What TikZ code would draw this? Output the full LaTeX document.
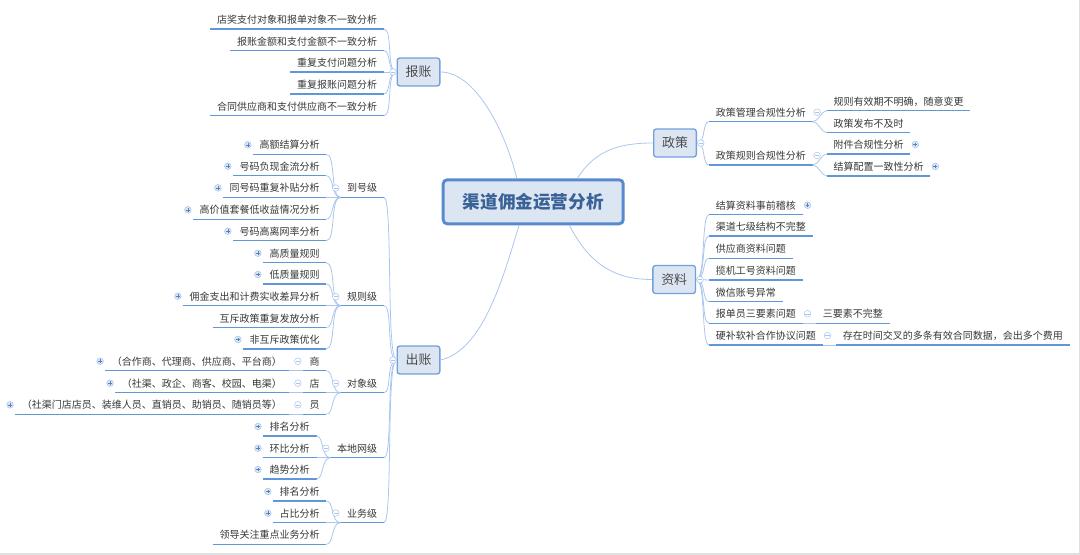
\documentclass[tikz,border=0pt]{standalone}
\usepackage{fontspec}
\setmainfont{Noto Sans CJK SC}
\usetikzlibrary{shapes, arrows, positioning, calc}
\definecolor{linedark}{RGB}{98,150,218}
\definecolor{linelight}{RGB}{170,198,238}
\definecolor{boxfill}{RGB}{220,230,243}
\definecolor{boxline}{RGB}{115,160,220}
\definecolor{rootline}{RGB}{88,138,205}
\definecolor{roottext}{RGB}{58,98,150}
\definecolor{textdark}{RGB}{55,55,55}
\tikzset{
	leaf/.style={inner xsep=4.875pt,inner ysep=0pt,minimum height=13.6pt,font=\fontsize{7.5pt}{9pt}\selectfont,text=textdark,
		append after command={(\tikzlastnode.south west) edge [line width=1pt,linedark] (\tikzlastnode.south east)}},
	leafw/.style={leaf,anchor=south west},
	leafe/.style={leaf,anchor=south east},
	mainbox/.style={draw=boxline,line width=1pt,fill=boxfill,rounded corners=2pt,minimum width=32pt,minimum height=21pt,inner sep=0pt,font=\fontsize{9.7pt}{11pt}\selectfont,text=black!70},
	rootbox/.style={draw=rootline,line width=2.2pt,fill=boxfill,rounded corners=3pt,minimum width=135pt,minimum height=33pt,inner sep=0pt,font=\bfseries\fontsize{13.2pt}{15pt}\selectfont,text=roottext},
	branch/.style={linelight,line width=0.6pt},
	foldm/.style={circle,draw=linelight,fill=white,line width=0.4pt,minimum size=5pt,inner sep=0pt,
		path picture={\draw [linelight,line width=0.4pt] ($(path picture bounding box.west)+(0.9pt,0)$) -- ($(path picture bounding box.east)+(-0.9pt,0)$);}},
	foldp/.style={circle,draw=linelight,fill=boxfill,line width=0.4pt,minimum size=5pt,inner sep=0pt,
		path picture={\draw [linedark!85!black,line width=0.35pt] ($(path picture bounding box.west)+(1.1pt,0)$) -- ($(path picture bounding box.east)+(-1.1pt,0)$) ($(path picture bounding box.south)+(0,1.1pt)$) -- ($(path picture bounding box.north)+(0,-1.1pt)$);}},
}
\begin{document}
\begin{tikzpicture}[x=0.75pt,y=0.75pt,yscale=-1,xscale=1]
	\useasboundingbox (0,0) rectangle (1080,555);
	
	% Page edge
	\fill [black!12] (0,553) rectangle (1080,555);
	\fill [black!12] (1078.5,0) rectangle (1080,555);
	
	% Root and main topics
	\draw (533.2,201.8) node [rootbox] (root) {渠道佣金运营分析};
	\draw (418.5,72) node [mainbox] (bz) {报账};
	\draw (418.5,360) node [mainbox] (cz) {出账};
	\draw (675,143) node [mainbox] (zc) {政策};
	\draw (674.2,279.5) node [mainbox] (zl) {资料};
	
	% Root connectors
	\draw [branch] (bz.east) .. controls (475,72) and (505,130) .. (root.125);
	\draw [branch] (cz.east) .. controls (485,350) and (505,270) .. (root.-121);
	\draw [branch] (zc.west) .. controls (620,143) and (595,150) .. (root.28);
	\draw [branch] (zl.west) .. controls (615,279.5) and (590,265) .. (root.-33);
	
	% Text Node: baozhang
	\draw (384,29) node [leafe] (bz1) {店奖支付对象和报单对象不一致分析};
	\draw (384,50.7) node [leafe] (bz2) {报账金额和支付金额不一致分析};
	\draw (384,72) node [leafe] (bz3) {重复支付问题分析};
	\draw (384,94) node [leafe] (bz4) {重复报账问题分析};
	\draw (384,115.7) node [leafe] (bz5) {合同供应商和支付供应商不一致分析};
	\draw [branch] (bz.west) .. controls (386,72) and (393,29) .. (bz1.south east);
	\draw [branch] (bz.west) .. controls (387,72) and (391,50.7) .. (bz2.south east);
	\draw [branch] (bz.west) -- (bz3.south east);
	\draw [branch] (bz.west) .. controls (387,72) and (391,94) .. (bz4.south east);
	\draw [branch] (bz.west) .. controls (386,72) and (393,115.7) .. (bz5.south east);
	\draw (393,72) node [foldm] (bzf) {};
	
	% Text Node: chuzhang, second level
	\draw (384,197.3) node [leafe] (dh) {到号级};
	\draw (384,305.7) node [leafe] (gz) {规则级};
	\draw (384,392.7) node [leafe] (dx) {对象级};
	\draw (384,457.7) node [leafe] (bd) {本地网级};
	\draw (384,522.7) node [leafe] (yw) {业务级};
	\draw [branch] (cz.west) .. controls (386,360) and (393,197.3) .. (dh.south east);
	\draw [branch] (cz.west) .. controls (386,360) and (393,305.7) .. (gz.south east);
	\draw [branch] (cz.west) .. controls (386,360) and (392,392.7) .. (dx.south east);
	\draw [branch] (cz.west) .. controls (386,360) and (393,457.7) .. (bd.south east);
	\draw [branch] (cz.west) .. controls (386,360) and (393,522.7) .. (yw.south east);
	\draw (393,360) node [foldm] (czf) {};
	
	% Text Node: daohao
	\draw (326.4,154.3) node [leafe] (dh1) {高额结算分析};
	\draw (326.4,175.7) node [leafe] (dh2) {号码负现金流分析};
	\draw (326.4,197.3) node [leafe] (dh3) {同号码重复补贴分析};
	\draw (326.4,219.3) node [leafe] (dh4) {高价值套餐低收益情况分析};
	\draw (326.4,240.7) node [leafe] (dh5) {号码高离网率分析};
	\draw [branch] (dh.south west) .. controls (330,197.3) and (336,154.3) .. (dh1.south east);
	\draw [branch] (dh.south west) .. controls (331,197.3) and (334,175.7) .. (dh2.south east);
	\draw [branch] (dh.south west) -- (dh3.south east);
	\draw [branch] (dh.south west) .. controls (331,197.3) and (334,219.3) .. (dh4.south east);
	\draw [branch] (dh.south west) .. controls (330,197.3) and (336,240.7) .. (dh5.south east);
	\draw (335.7,188) node [foldm] (dhf) {};
	\path (dh1.south west) ++(-5,-9.5) node [foldp] (dh1f) {};
	\path (dh2.south west) ++(-5,-9.5) node [foldp] (dh2f) {};
	\path (dh3.south west) ++(-5,-9.5) node [foldp] (dh3f) {};
	\path (dh4.south west) ++(-5,-9.5) node [foldp] (dh4f) {};
	\path (dh5.south west) ++(-5,-9.5) node [foldp] (dh5f) {};
	
	% Text Node: guize
	\draw (326.4,262.7) node [leafe] (gz1) {高质量规则};
	\draw (326.4,284) node [leafe] (gz2) {低质量规则};
	\draw (326.4,305.7) node [leafe] (gz3) {佣金支出和计费实收差异分析};
	\draw (326.4,327.7) node [leafe] (gz4) {互斥政策重复发放分析};
	\draw (326.4,349) node [leafe] (gz5) {非互斥政策优化};
	\draw [branch] (gz.south west) .. controls (330,305.7) and (336,262.7) .. (gz1.south east);
	\draw [branch] (gz.south west) .. controls (331,305.7) and (334,284) .. (gz2.south east);
	\draw [branch] (gz.south west) -- (gz3.south east);
	\draw [branch] (gz.south west) .. controls (331,305.7) and (334,327.7) .. (gz4.south east);
	\draw [branch] (gz.south west) .. controls (330,305.7) and (336,349) .. (gz5.south east);
	\draw (335.7,296.7) node [foldm] (gzf) {};
	\path (gz1.south west) ++(-5,-9.5) node [foldp] (gz1f) {};
	\path (gz2.south west) ++(-5,-9.5) node [foldp] (gz2f) {};
	\path (gz3.south west) ++(-5,-9.5) node [foldp] (gz3f) {};
	\path (gz5.south west) ++(-5,-9.5) node [foldp] (gz5f) {};
	
	% Text Node: duixiang
	\draw (326.4,370.7) node [leafe] (dx1) {商};
	\draw (326.4,392.7) node [leafe] (dx2) {店};
	\draw (326.4,414.3) node [leafe] (dx3) {员};
	\draw (288.6,370.7) node [leafe] (dx1a) {（合作商、代理商、供应商、平台商）};
	\draw (288.6,392.7) node [leafe] (dx2a) {（社渠、政企、商客、校园、电渠）};
	\draw (288.6,414.3) node [leafe] (dx3a) {（社渠门店店员、装维人员、直销员、助销员、随销员等）};
	\draw [branch] (dx.south west) .. controls (331,392.7) and (334,370.7) .. (dx1.south east);
	\draw [branch] (dx.south west) -- (dx2.south east);
	\draw [branch] (dx.south west) .. controls (331,392.7) and (334,414.3) .. (dx3.south east);
	\draw [branch] (dx1.south west) -- (dx1a.south east);
	\draw [branch] (dx2.south west) -- (dx2a.south east);
	\draw [branch] (dx3.south west) -- (dx3a.south east);
	\draw (335.7,383.3) node [foldm] (dxf) {};
	\path (dx1.south west) ++(-5,-9.5) node [foldm] (dx1f) {};
	\path (dx2.south west) ++(-5,-9.5) node [foldm] (dx2f) {};
	\path (dx3.south west) ++(-5,-9.5) node [foldm] (dx3f) {};
	\path (dx1a.south west) ++(-5,-9.5) node [foldp] (dx1g) {};
	\path (dx2a.south west) ++(-5,-9.5) node [foldp] (dx2g) {};
	\path (dx3a.south west) ++(-5,-9.5) node [foldp] (dx3g) {};
	
	% Text Node: bendi
	\draw (316.5,436) node [leafe] (bd1) {排名分析};
	\draw (316.5,457.7) node [leafe] (bd2) {环比分析};
	\draw (316.5,479) node [leafe] (bd3) {趋势分析};
	\draw [branch] (bd.south west) .. controls (321,457.7) and (324,436) .. (bd1.south east);
	\draw [branch] (bd.south west) -- (bd2.south east);
	\draw [branch] (bd.south west) .. controls (321,457.7) and (324,479) .. (bd3.south east);
	\draw (325.8,448.3) node [foldm] (bdf) {};
	\path (bd1.south west) ++(-5,-9.5) node [foldp] (bd1f) {};
	\path (bd2.south west) ++(-5,-9.5) node [foldp] (bd2f) {};
	\path (bd3.south west) ++(-5,-9.5) node [foldp] (bd3f) {};
	
	% Text Node: yewu
	\draw (326.4,501) node [leafe] (yw1) {排名分析};
	\draw (326.4,522.7) node [leafe] (yw2) {占比分析};
	\draw (326.4,544.3) node [leafe] (yw3) {领导关注重点业务分析};
	\draw [branch] (yw.south west) .. controls (331,522.7) and (334,501) .. (yw1.south east);
	\draw [branch] (yw.south west) -- (yw2.south east);
	\draw [branch] (yw.south west) .. controls (331,522.7) and (334,544.3) .. (yw3.south east);
	\draw (335.7,513) node [foldm] (ywf) {};
	\path (yw1.south west) ++(-5,-9.5) node [foldp] (yw1f) {};
	\path (yw2.south west) ++(-5,-9.5) node [foldp] (yw2f) {};
	
	% Text Node: zhengce
	\draw (709,121.7) node [leafw] (zc1) {政策管理合规性分析};
	\draw (709,165) node [leafw] (zc2) {政策规则合规性分析};
	\draw (826.8,110.7) node [leafw] (zc1a) {规则有效期不明确，随意变更};
	\draw (826.8,132.7) node [leafw] (zc1b) {政策发布不及时};
	\draw (826.8,154) node [leafw] (zc2a) {附件合规性分析};
	\draw (826.8,176) node [leafw] (zc2b) {结算配置一致性分析};
	\draw [branch] (zc.east) .. controls (706,143) and (702,121.7) .. (zc1.south west);
	\draw [branch] (zc.east) .. controls (706,143) and (702,165) .. (zc2.south west);
	\draw [branch] (zc1.south east) .. controls (819,121.7) and (821,110.7) .. (zc1a.south west);
	\draw [branch] (zc1.south east) .. controls (819,121.7) and (821,132.7) .. (zc1b.south west);
	\draw [branch] (zc2.south east) .. controls (819,165) and (821,154) .. (zc2a.south west);
	\draw [branch] (zc2.south east) .. controls (819,165) and (821,176) .. (zc2b.south west);
	\draw (700.7,143) node [foldm] (zcf) {};
	\path (zc1.south east) ++(4.5,-9.5) node [foldm] (zc1f) {};
	\path (zc2.south east) ++(4.5,-9.5) node [foldm] (zc2f) {};
	\path (zc2a.south east) ++(5,-9.5) node [foldp] (zc2g) {};
	\path (zc2b.south east) ++(5,-9.5) node [foldp] (zc2h) {};
	
	% Text Node: ziliao
	\draw (709,214.7) node [leafw] (zl1) {结算资料事前稽核};
	\draw (709,236) node [leafw] (zl2) {渠道七级结构不完整};
	\draw (709,258.3) node [leafw] (zl3) {供应商资料问题};
	\draw (709,280) node [leafw] (zl4) {揽机工号资料问题};
	\draw (709,301.7) node [leafw] (zl5) {微信账号异常};
	\draw (709,323.3) node [leafw] (zl6) {报单员三要素问题};
	\draw (709,345) node [leafw] (zl7) {硬补软补合作协议问题};
	\draw (816,323.3) node [leafw] (zl6a) {三要素不完整};
	\draw (836,345) node [leafw] (zl7a) {存在时间交叉的多条有效合同数据，会出多个费用};
	\draw [branch] (zl.east) .. controls (706,279.5) and (701,214.7) .. (zl1.south west);
	\draw [branch] (zl.east) .. controls (706,279.5) and (701,236) .. (zl2.south west);
	\draw [branch] (zl.east) .. controls (706,279.5) and (702,258.3) .. (zl3.south west);
	\draw [branch] (zl.east) -- (zl4.south west);
	\draw [branch] (zl.east) .. controls (706,279.5) and (702,301.7) .. (zl5.south west);
	\draw [branch] (zl.east) .. controls (706,279.5) and (701,323.3) .. (zl6.south west);
	\draw [branch] (zl.east) .. controls (706,279.5) and (701,345) .. (zl7.south west);
	\draw [branch] (zl6.south east) -- (zl6a.south west);
	\draw [branch] (zl7.south east) -- (zl7a.south west);
	\draw (700,279.7) node [foldm] (zlf) {};
	\path (zl1.south east) ++(5,-9.5) node [foldp] (zl1f) {};
	\path (zl6.south east) ++(5,-9.5) node [foldm] (zl6f) {};
	\path (zl7.south east) ++(5,-9.5) node [foldm] (zl7f) {};
\end{tikzpicture}
\end{document}
